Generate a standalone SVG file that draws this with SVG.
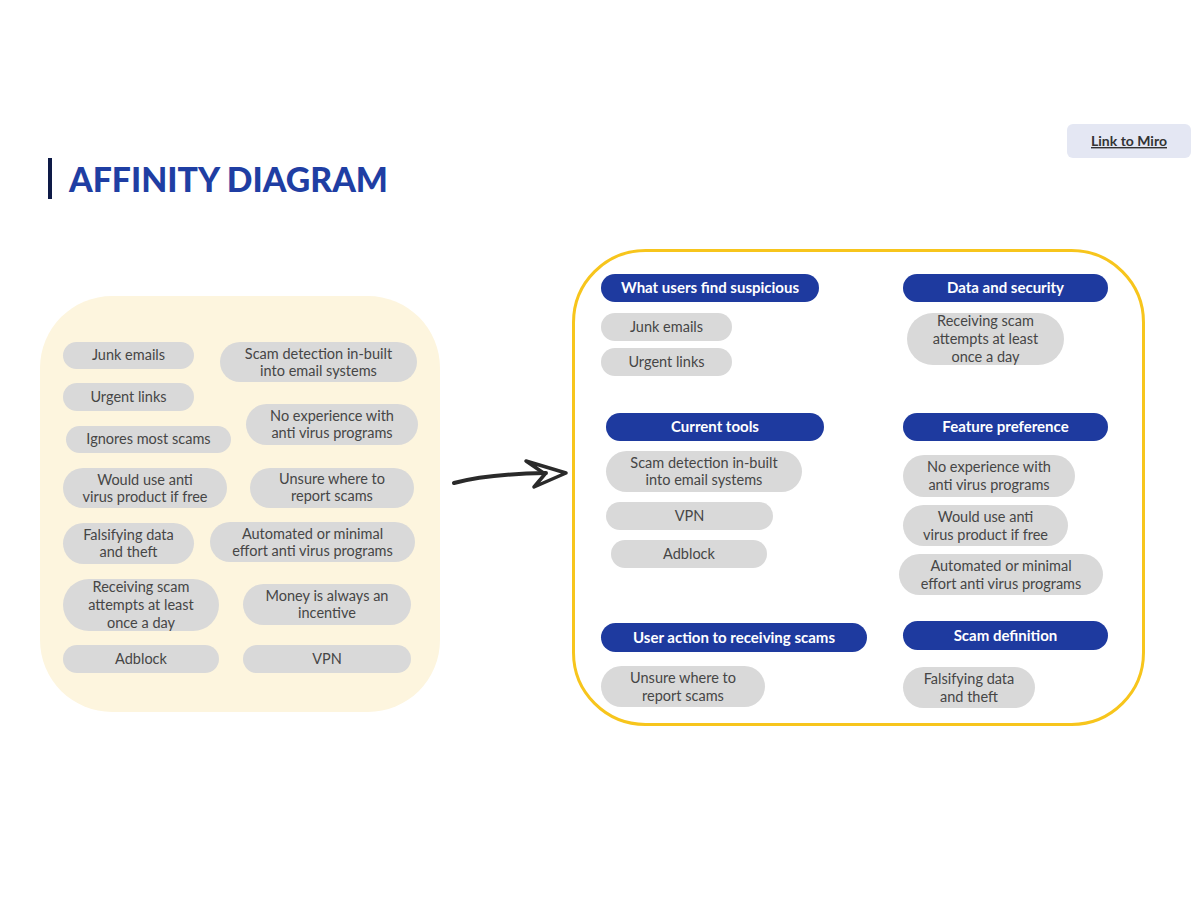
<svg xmlns="http://www.w3.org/2000/svg" width="1200" height="900" viewBox="0 0 1200 900">
  <style>
    .note rect { fill: #d9d9d9; }
    .note text { font-family: "Lato", "Liberation Sans", sans-serif; font-size: 14.5px; fill: #464646; text-anchor: middle; }
    .head rect { fill: #1e3a9f; }
    .head text { font-family: "Lato", "Liberation Sans", sans-serif; font-weight: 700; font-size: 15px; fill: #ffffff; text-anchor: middle; }
  </style>
  <rect width="1200" height="900" fill="#ffffff"/>

  <!-- title -->
  <g id="title">
    <rect x="48" y="158" width="4" height="41" fill="#0e1a47"/>
    <text x="69" y="192" font-family="Lato, 'Liberation Sans', sans-serif" font-weight="900" font-size="34" fill="#1f3ea3" textLength="319" lengthAdjust="spacingAndGlyphs">AFFINITY DIAGRAM</text>
  </g>

  <!-- link button -->
  <g id="link-miro">
    <rect x="1067" y="124" width="124" height="34" rx="6" fill="#e4e7f3"/>
    <text x="1129" y="146" font-family="Lato, 'Liberation Sans', sans-serif" font-weight="700" font-size="14" fill="#333333" text-anchor="middle" text-decoration="underline">Link to Miro</text>
  </g>

  <!-- unsorted notes -->
  <g id="unsorted">
    <rect x="40" y="296" width="400" height="416" rx="72" fill="#fdf5de"/>
    <g class="note" id="u-junk"><rect x="63" y="342" width="131" height="27" rx="13.5"/><text x="128.5" y="360">Junk emails</text></g>
    <g class="note" id="u-scamdet"><rect x="220" y="342" width="197" height="40" rx="20"/><text x="318.5" y="359">Scam detection in-built</text><text x="318.5" y="376">into email systems</text></g>
    <g class="note" id="u-urgent"><rect x="63" y="383" width="131" height="28" rx="14"/><text x="128.5" y="402">Urgent links</text></g>
    <g class="note" id="u-noexp"><rect x="246" y="404" width="172" height="41" rx="20.5"/><text x="332" y="421">No experience with</text><text x="332" y="438">anti virus programs</text></g>
    <g class="note" id="u-ignores"><rect x="66" y="426" width="165" height="27" rx="13.5"/><text x="148.5" y="444">Ignores most scams</text></g>
    <g class="note" id="u-woulduse"><rect x="63" y="468" width="164" height="40" rx="20"/><text x="145" y="485">Would use anti</text><text x="145" y="502">virus product if free</text></g>
    <g class="note" id="u-unsure"><rect x="250" y="468" width="164" height="40" rx="20"/><text x="332" y="484">Unsure where to</text><text x="332" y="501">report scams</text></g>
    <g class="note" id="u-falsify"><rect x="63" y="523" width="131" height="41" rx="20.5"/><text x="128.5" y="540">Falsifying data</text><text x="128.5" y="557">and theft</text></g>
    <g class="note" id="u-auto"><rect x="210" y="522" width="205" height="40" rx="20"/><text x="312.5" y="539">Automated or minimal</text><text x="312.5" y="556">effort anti virus programs</text></g>
    <g class="note" id="u-receiving"><rect x="63" y="579" width="156" height="52" rx="26"/><text x="141" y="592">Receiving scam</text><text x="141" y="610">attempts at least</text><text x="141" y="628">once a day</text></g>
    <g class="note" id="u-money"><rect x="243" y="584" width="168" height="41" rx="20.5"/><text x="327" y="601">Money is always an</text><text x="327" y="618">incentive</text></g>
    <g class="note" id="u-adblock"><rect x="63" y="645" width="156" height="28" rx="14"/><text x="141" y="664">Adblock</text></g>
    <g class="note" id="u-vpn"><rect x="243" y="645" width="168" height="28" rx="14"/><text x="327" y="664">VPN</text></g>
  </g>

  <!-- connectors -->
  <g id="connectors" fill="none" stroke="#2a2a2a" stroke-width="4" stroke-linecap="round" stroke-linejoin="round">
    <path d="M454,483 Q488,474 546,473"/>
    <path d="M526,461 L566,473 L534,487 L545,474 Z" stroke-width="3.5"/>
  </g>

  <!-- grouped notes -->
  <g id="grouped">
    <rect x="573.5" y="250.5" width="570" height="474" rx="72" fill="none" stroke="#f7c51c" stroke-width="3"/>

    <g id="grp-suspicious">
      <g class="head"><rect x="601" y="274" width="218" height="28" rx="14"/><text x="710" y="293">What users find suspicious</text></g>
      <g class="note"><rect x="601" y="313" width="131" height="28" rx="14"/><text x="666.5" y="332">Junk emails</text></g>
      <g class="note"><rect x="601" y="348" width="131" height="28" rx="14"/><text x="666.5" y="367">Urgent links</text></g>
    </g>

    <g id="grp-data">
      <g class="head"><rect x="903" y="274" width="205" height="28" rx="14"/><text x="1005.5" y="293">Data and security</text></g>
      <g class="note"><rect x="907" y="313" width="157" height="52" rx="26"/><text x="985.5" y="326">Receiving scam</text><text x="985.5" y="344">attempts at least</text><text x="985.5" y="362">once a day</text></g>
    </g>

    <g id="grp-tools">
      <g class="head"><rect x="606" y="413" width="218" height="28" rx="14"/><text x="715" y="432">Current tools</text></g>
      <g class="note"><rect x="606" y="451" width="196" height="41" rx="20.5"/><text x="704" y="468">Scam detection in-built</text><text x="704" y="485">into email systems</text></g>
      <g class="note"><rect x="606" y="502" width="167" height="28" rx="14"/><text x="689.5" y="521">VPN</text></g>
      <g class="note"><rect x="611" y="540" width="156" height="28" rx="14"/><text x="689" y="559">Adblock</text></g>
    </g>

    <g id="grp-feature">
      <g class="head"><rect x="903" y="413" width="205" height="28" rx="14"/><text x="1005.5" y="432">Feature preference</text></g>
      <g class="note"><rect x="903" y="455" width="172" height="42" rx="21"/><text x="989" y="472">No experience with</text><text x="989" y="490">anti virus programs</text></g>
      <g class="note"><rect x="903" y="505" width="165" height="41" rx="20.5"/><text x="985.5" y="522">Would use anti</text><text x="985.5" y="540">virus product if free</text></g>
      <g class="note"><rect x="899" y="554" width="204" height="41" rx="20.5"/><text x="1001" y="571">Automated or minimal</text><text x="1001" y="589">effort anti virus programs</text></g>
    </g>

    <g id="grp-action">
      <g class="head"><rect x="601" y="623" width="266" height="29" rx="14.5"/><text x="734" y="643">User action to receiving scams</text></g>
      <g class="note"><rect x="601" y="666" width="164" height="41" rx="20.5"/><text x="683" y="683">Unsure where to</text><text x="683" y="701">report scams</text></g>
    </g>

    <g id="grp-definition">
      <g class="head"><rect x="903" y="621" width="205" height="29" rx="14.5"/><text x="1005.5" y="641">Scam definition</text></g>
      <g class="note"><rect x="903" y="667" width="132" height="41" rx="20.5"/><text x="969" y="684">Falsifying data</text><text x="969" y="702">and theft</text></g>
    </g>
  </g>
</svg>
